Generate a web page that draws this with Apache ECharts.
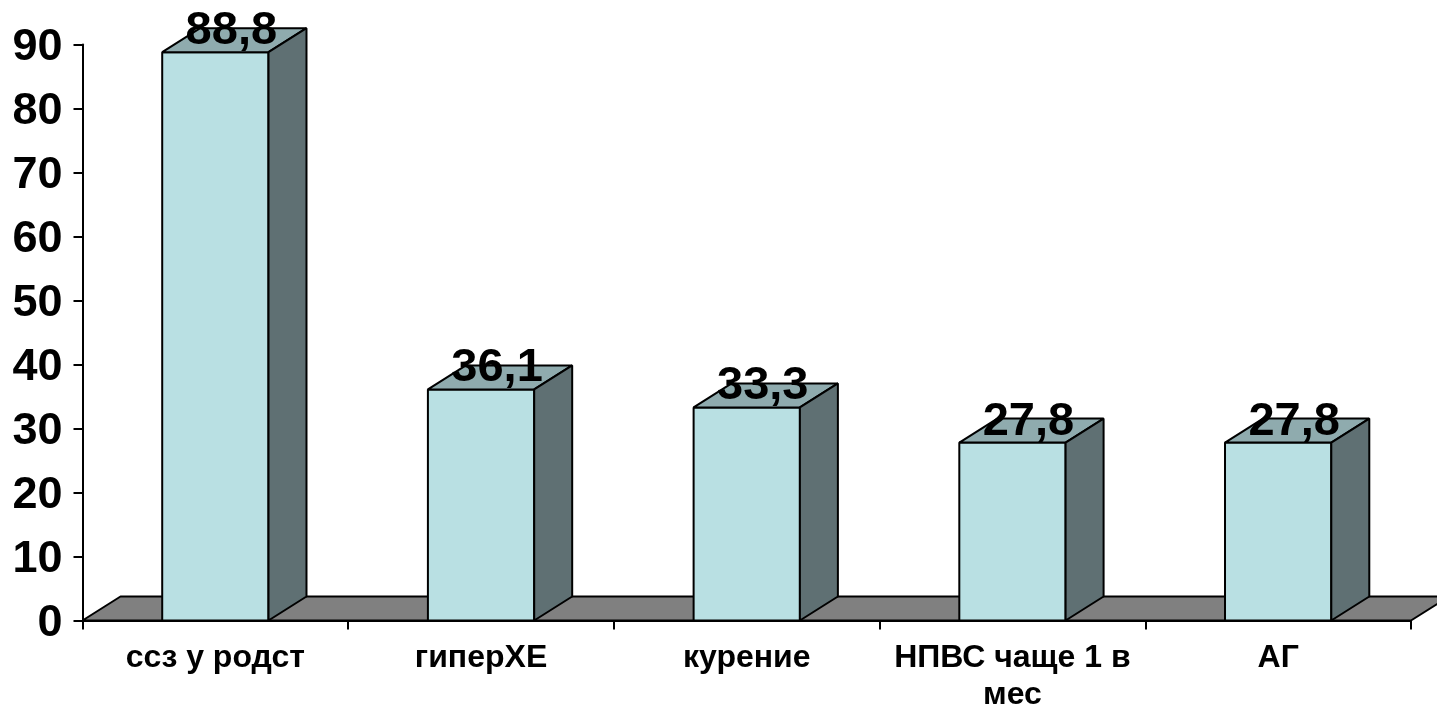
<!DOCTYPE html>
<html>
<head>
<meta charset="utf-8">
<style>html,body{margin:0;padding:0;background:#fff}#chart{width:1437px;height:704px}</style>
<script src="https://cdn.jsdelivr.net/npm/echarts@6/dist/echarts.min.js"></script>
</head>
<body>
<div id="chart"></div>
<script>
// Risk factors, per cent of patients
const categories = ['ссз у родст', 'гиперХЕ', 'курение', 'НПВС чаще 1 в\nмес', 'АГ'];
const values = [88.8, 36.1, 33.3, 27.8, 27.8];
const yTicks = { min: 0, max: 90, interval: 10 };

// Oblique projection used for the box sides and the floor
const DEPTH_X = 38, DEPTH_Y = -24;
const BAR_RATIO = 0.4;
const FONT = '"Liberation Sans", Arial, sans-serif';
const stroke = { stroke: '#000', lineWidth: 2, lineJoin: 'bevel' };

const poly = (points, fill) => ({ type: 'polygon', shape: { points }, style: { fill, ...stroke } });

function renderFloor(params, api) {
  const band = api.size([1, 0])[0];
  const start = api.coord([0, 0]);
  const end = api.coord([categories.length - 1, 0]);
  const l = start[0] - band / 2, r = end[0] + band / 2, y = start[1];
  return poly([[l, y], [r, y], [r + DEPTH_X, y + DEPTH_Y], [l + DEPTH_X, y + DEPTH_Y]], '#808080');
}

function renderBar(params, api) {
  const i = api.value(0), v = api.value(1);
  const band = api.size([1, 0])[0];
  const top = api.coord([i, v]), base = api.coord([i, 0]);
  const half = band * BAR_RATIO / 2;
  const l = top[0] - half, r = top[0] + half, t = top[1], b = base[1];
  return {
    type: 'group',
    children: [
      poly([[l, b], [r, b], [r, t], [l, t]], '#B9E0E3'),
      poly([[l, t], [r, t], [r + DEPTH_X, t + DEPTH_Y], [l + DEPTH_X, t + DEPTH_Y]], '#8FABAE'),
      poly([[r, b], [r + DEPTH_X, b + DEPTH_Y], [r + DEPTH_X, t + DEPTH_Y], [r, t]], '#5F7073'),
      {
        type: 'text',
        z2: 10,
        style: {
          x: top[0] + 16, y: t + DEPTH_Y + 3,
          text: String(v).replace('.', ','),
          fill: '#000',
          font: 'bold 47px ' + FONT,
          align: 'center', verticalAlign: 'middle'
        }
      }
    ]
  };
}

const chart = echarts.init(document.getElementById('chart'), null, { renderer: 'canvas' });
chart.setOption({
  animation: false,
  backgroundColor: '#fff',
  grid: { left: 82.5, right: 26, top: 44.5, bottom: 83.5, containLabel: false, outerBoundsMode: 'none' },
  xAxis: {
    type: 'category',
    data: categories,
    axisLine: { lineStyle: { color: '#000', width: 2 } },
    axisTick: { show: true, length: 9, lineStyle: { color: '#000', width: 2 } },
    axisLabel: {
      color: '#000', fontFamily: FONT, fontWeight: 'bold', fontSize: 32,
      margin: 19, lineHeight: 37, interval: 0
    }
  },
  yAxis: {
    type: 'value',
    ...yTicks,
    splitLine: { show: false },
    axisLine: { show: true, lineStyle: { color: '#000', width: 2 } },
    axisTick: { show: true, length: 9, lineStyle: { color: '#000', width: 2 } },
    axisLabel: {
      color: '#000', fontFamily: FONT, fontWeight: 'bold', fontSize: 45,
      margin: 20, verticalAlign: 'top', lineHeight: 6
    }
  },
  series: [
    { type: 'custom', z: 1, data: [[0, 0]], renderItem: renderFloor, silent: true },
    { type: 'custom', z: 2, data: values.map((v, i) => [i, v]), renderItem: renderBar, silent: true }
  ]
});
</script>
</body>
</html>
